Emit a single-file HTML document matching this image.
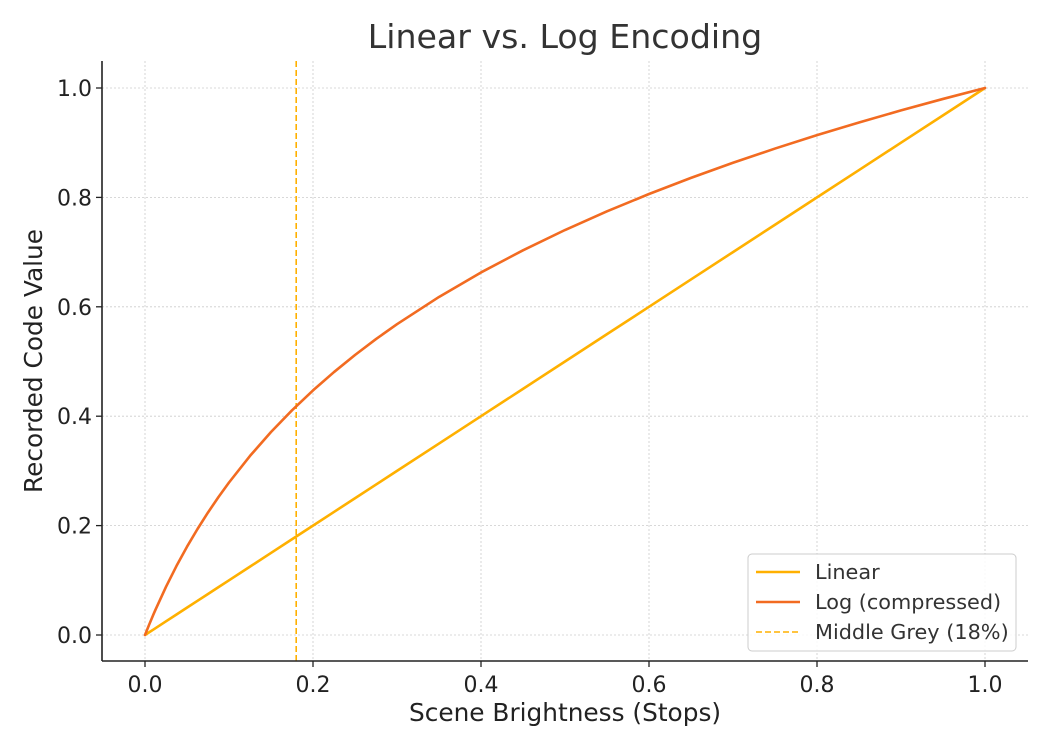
<!DOCTYPE html>
<html><head><meta charset="utf-8"><style>
body{margin:0;background:#fff;}
svg{font-family:"DejaVu Sans","Liberation Sans",sans-serif;}
</style></head><body>
<svg id="chart" width="1050" height="750" viewBox="0 0 1050 750">
<text x="565" y="48" text-anchor="middle" font-size="33.2" fill="#333">Linear vs. Log Encoding</text>
<g id="grid"></g>
<g id="ticks"></g>
<g id="series"></g>
<line x1="102" y1="61" x2="102" y2="661" stroke="#222" stroke-width="1.6"/>
<line x1="102" y1="661" x2="1028" y2="661" stroke="#222" stroke-width="1.6"/>
<text x="565" y="721" text-anchor="middle" font-size="24.8" fill="#222">Scene Brightness (Stops)</text>
<text transform="translate(42,361) rotate(-90)" text-anchor="middle" font-size="24.8" fill="#222">Recorded Code Value</text>
<g>
<rect x="748" y="554" width="268" height="97" rx="4" fill="#fff" fill-opacity="0.85" stroke="#ccc"/>
<line x1="756" y1="572" x2="800" y2="572" stroke="#FFB000" stroke-width="2.5"/>
<text x="815" y="579" font-size="20.8" fill="#333">Linear</text>
<line x1="756" y1="602" x2="800" y2="602" stroke="#F26B21" stroke-width="2.5"/>
<text x="815" y="609" font-size="20.8" fill="#333">Log (compressed)</text>
<line x1="756" y1="632" x2="800" y2="632" stroke="#FFB000" stroke-width="1.6" stroke-dasharray="6,3"/>
<text x="815" y="639" font-size="20.8" fill="#333">Middle Grey (18%)</text>
</g>
</svg>
<script>
const xValues = [0,0.005,0.01,0.0125,0.025,0.0375,0.05,0.0625,0.075,0.0875,0.1,0.125,0.15,0.175,0.2,0.225,0.25,0.275,0.3,0.35,0.4,0.45,0.5,0.55,0.6,0.65,0.7,0.75,0.8,0.85,0.9,0.95,1];
const linearValues = [0,0.005,0.01,0.0125,0.025,0.0375,0.05,0.0625,0.075,0.0875,0.1,0.125,0.15,0.175,0.2,0.225,0.25,0.275,0.3,0.35,0.4,0.45,0.5,0.55,0.6,0.65,0.7,0.75,0.8,0.85,0.9,0.95,1];
const logValues = [0,0.0191,0.0374,0.0463,0.0881,0.1263,0.1614,0.1938,0.2240,0.2523,0.2788,0.3274,0.3711,0.4108,0.4472,0.4807,0.5119,0.5410,0.5682,0.6180,0.6628,0.7033,0.7404,0.7745,0.8062,0.8357,0.8633,0.8893,0.9138,0.9370,0.9590,0.9800,1];
const middleGrey = 0.18;
const xTicks = ["0.0","0.2","0.4","0.6","0.8","1.0"];
const yTicks = ["0.0","0.2","0.4","0.6","0.8","1.0"];
const NS="http://www.w3.org/2000/svg";
const sx = v => 145 + v*840;
const sy = v => 635 - v*547;
function mk(tag, attrs, parent){const e=document.createElementNS(NS,tag);for(const k in attrs)e.setAttribute(k,attrs[k]);parent.appendChild(e);return e;}
const grid=document.getElementById('grid'), ticks=document.getElementById('ticks'), series=document.getElementById('series');
xTicks.forEach(t=>{const x=sx(parseFloat(t));
 const g=mk('line',{x1:x,y1:61,x2:x,y2:661,stroke:'#ccc','stroke-width':0.8,'stroke-dasharray':'2,2'},grid);
 
 
 const tk=mk('line',{x1:x,y1:661,x2:x,y2:667,stroke:'#222','stroke-width':1.3},ticks);
 
 
 const tx=mk('text',{x:x,y:692,'text-anchor':'middle','font-size':22,fill:'#222'},ticks);tx.textContent=t;
 
 
});
yTicks.forEach(t=>{const y=sy(parseFloat(t));
 const g=mk('line',{x1:102,y1:y,x2:1028,y2:y,stroke:'#ccc','stroke-width':0.8,'stroke-dasharray':'2,2'},grid);
 
 
 const tk=mk('line',{x1:96,y1:y,x2:102,y2:y,stroke:'#222','stroke-width':1.3},ticks);
 
 
 const tx=mk('text',{x:92,y:y+8,'text-anchor':'end','font-size':22,fill:'#222'},ticks);tx.textContent=t;
 
 
});
const mg=mk('line',{x1:sx(middleGrey),y1:61,x2:sx(middleGrey),y2:661,stroke:'#FFB000','stroke-width':1.6,'stroke-dasharray':'6,3'},series);


const lin=mk('polyline',{points:xValues.map((x,i)=>sx(x)+','+sy(linearValues[i])).join(' '),fill:'none',stroke:'#FFB000','stroke-width':2.6},series);


const lg=mk('polyline',{points:xValues.map((x,i)=>sx(x)+','+sy(logValues[i])).join(' '),fill:'none',stroke:'#F26B21','stroke-width':2.6,'stroke-linejoin':'round','stroke-linecap':'round'},series);


</script>
</body></html>
